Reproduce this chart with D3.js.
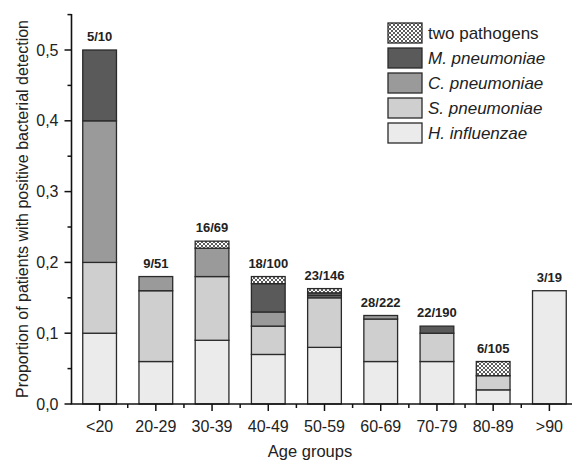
<!DOCTYPE html>
<html><head><meta charset="utf-8">
<script src="https://cdn.jsdelivr.net/npm/d3@7"></script>
<style>body{margin:0;background:#fff}svg{display:block;font-family:"Liberation Sans",Arial,sans-serif}</style>
</head><body>
<svg id="c" width="572" height="461"></svg>
<script>
const categories = ["<20","20-29","30-39","40-49","50-59","60-69","70-79","80-89",">90"];
const hInfluenzae = [0.10,0.06,0.09,0.07,0.08,0.06,0.06,0.02,0.16];
const sPneumoniae = [0.10,0.10,0.09,0.04,0.07,0.06,0.04,0.02,0];
const cPneumoniae = [0.20,0.02,0.04,0.02,0.003,0.005,0,0,0];
const mPneumoniae = [0.10,0,0,0.04,0.004,0,0.01,0,0];
const twoPathogens = [0,0,0.01,0.01,0.006,0,0,0.02,0];
const counts = ["5/10","9/51","16/69","18/100","23/146","28/222","22/190","6/105","3/19"];
const yTicks = [0,0.1,0.2,0.3,0.4,0.5];
const seriesNames = ["H. influenzae","S. pneumoniae","C. pneumoniae","M. pneumoniae","two pathogens"];
const seriesValues = [hInfluenzae,sPneumoniae,cPneumoniae,mPneumoniae,twoPathogens];
const colors = ["#ebebeb","#cfcfcf","#9a9a9a","#5a5a5a","url(#hatch)"];

const svg = d3.select("#c");
const defs = svg.append("defs");
const pat = defs.append("pattern").attr("id","hatch").attr("patternUnits","userSpaceOnUse").attr("width",4).attr("height",4);
pat.append("rect").attr("width",4).attr("height",4).attr("fill","#fff");
pat.append("path").attr("d","M0,0L4,4M4,0L0,4").attr("stroke","#333").attr("stroke-width",0.8);

const x = d3.scaleBand().domain(categories).range([71.5,577.5]).paddingInner(0.4).paddingOuter(0.2);
const y = d3.scaleLinear().domain([0,0.55]).range([404,14.6]);

const rows = categories.map((c,i)=>{const o={cat:c}; seriesNames.forEach((s,k)=>o[s]=seriesValues[k][i]); return o;});
const stack = d3.stack().keys(seriesNames)(rows);

svg.append("g").selectAll("g").data(stack).join("g")
  .attr("fill",(d,i)=>colors[i])
  .selectAll("rect").data(d=>d).join("rect")
  .filter(d=>d[1]-d[0]>0)
  .attr("x",d=>x(d.data.cat)).attr("width",x.bandwidth())
  .attr("y",d=>y(d[1])).attr("height",d=>y(d[0])-y(d[1]))
  .attr("stroke","#2a2a2a").attr("stroke-width",1.3);

// count labels
svg.append("g").selectAll("text").data(rows).join("text")
  .attr("x",d=>x(d.cat)+x.bandwidth()/2)
  .attr("y",(d,i)=>y(d3.sum(seriesValues,s=>s[i]))-9)
  .attr("text-anchor","middle").attr("font-size",13).attr("font-weight","bold").attr("fill","#222")
  .text((d,i)=>counts[i]);

// y axis
const yAxis = svg.append("g").attr("transform","translate(71.5,0)");
yAxis.append("line").attr("y1",y(0)).attr("y2",14).attr("stroke","#111").attr("stroke-width",1.6);
yAxis.selectAll("line.maj").data(yTicks).join("line").attr("class","maj")
  .attr("x1",-7).attr("x2",0).attr("y1",d=>y(d)).attr("y2",d=>y(d)).attr("stroke","#111").attr("stroke-width",1.5);
yAxis.selectAll("line.min").data(yTicks.map(d=>d+0.05)).join("line").attr("class","min")
  .attr("x1",-4).attr("x2",0).attr("y1",d=>y(d)).attr("y2",d=>y(d)).attr("stroke","#111").attr("stroke-width",1.5);
yAxis.selectAll("text").data(yTicks).join("text")
  .attr("x",-13).attr("y",d=>y(d)).attr("dy","0.35em").attr("text-anchor","end")
  .attr("font-size",16).attr("fill","#222").text(d=>d.toFixed(1).replace(".",","));

// x axis
const xAxis = svg.append("g");
xAxis.append("line").attr("x1",70.7).attr("x2",572).attr("y1",404).attr("y2",404).attr("stroke","#111").attr("stroke-width",1.6);
xAxis.selectAll("line.maj").data(categories).join("line").attr("class","maj")
  .attr("x1",d=>x(d)+x.bandwidth()/2).attr("x2",d=>x(d)+x.bandwidth()/2).attr("y1",404).attr("y2",411)
  .attr("stroke","#111").attr("stroke-width",1.5);
xAxis.selectAll("line.min").data(categories).join("line").attr("class","min")
  .attr("x1",d=>x(d)+x.bandwidth()/2+x.step()/2).attr("x2",d=>x(d)+x.bandwidth()/2+x.step()/2).attr("y1",404).attr("y2",408)
  .attr("stroke","#111").attr("stroke-width",1.5);
xAxis.selectAll("text").data(categories).join("text")
  .attr("x",d=>x(d)+x.bandwidth()/2).attr("y",432).attr("text-anchor","middle")
  .attr("font-size",16).attr("fill","#222").text(d=>d);

svg.append("text").attr("x",310).attr("y",457).attr("text-anchor","middle").attr("font-size",16.5).attr("fill","#222").text("Age groups");
svg.append("text").attr("transform","translate(22,209) rotate(-90)").attr("dy","0.35em").attr("text-anchor","middle")
  .attr("font-size",16).attr("fill","#222").text("Proportion of patients with positive bacterial detection");

// legend
const legOrder = [4,3,2,1,0];
const leg = svg.append("g").selectAll("g").data(legOrder).join("g")
  .attr("transform",(d,i)=>`translate(388,${23+i*25})`);
leg.append("rect").attr("width",34).attr("height",20).attr("fill",d=>colors[d]).attr("stroke","#2a2a2a").attr("stroke-width",1.3);
leg.append("text").attr("x",40).attr("y",10).attr("dy","0.35em").attr("font-size",17).attr("fill","#222")
  .attr("font-style",d=>d===4?"normal":"italic").text(d=>seriesNames[d]);
</script>
</body></html>
